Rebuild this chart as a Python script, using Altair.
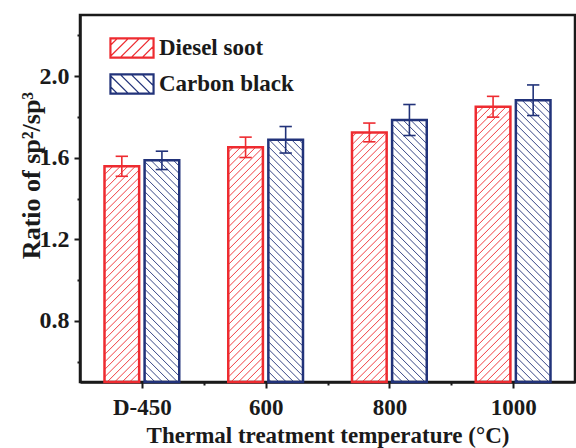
import altair as alt
import pandas as pd
import numpy as np

# ---- data ----
categories = ["D-450", "600", "800", "1000"]
series = ["Diesel soot", "Carbon black"]
diesel = [1.558, 1.651, 1.724, 1.850]
diesel_err = [0.049, 0.050, 0.046, 0.051]
carbon = [1.587, 1.688, 1.785, 1.882]
carbon_err = [0.045, 0.065, 0.076, 0.075]
colors = ["#EE2B30", "#22337A"]

# ---- layout constants ----
W, H = 495, 367
X_DOM = [-0.5, 3.5]
Y_DOM = [0.5, 2.3]
ppx = W / (X_DOM[1] - X_DOM[0])
ppy = H / (Y_DOM[1] - Y_DOM[0])
bar_w = 0.28
offsets = [-0.162, 0.162]
cap = 0.05

rows = []
for si, (vals, errs) in enumerate([(diesel, diesel_err), (carbon, carbon_err)]):
    for ci, cat in enumerate(categories):
        c = ci + offsets[si]
        rows.append(dict(series=series[si], col=colors[si], cat=cat, xc=c, x0=c - bar_w / 2, x1=c + bar_w / 2,
                         v=vals[ci], lo=vals[ci] - errs[ci], hi=vals[ci] + errs[ci],
                         cl=c - cap, cr=c + cap, base=Y_DOM[0]))
df = pd.DataFrame(rows)

# hatch lines derived from bar geometry
hrows = []
s = 7.5
for r in rows:
    w = bar_w * ppx
    h = (r["v"] - Y_DOM[0]) * ppy
    if r["series"] == series[0]:
        for c in np.arange(-w + 2, h, s):
            a = max(0.0, -c)
            b = min(w, h - c)
            if b > a:
                hrows.append(dict(col=r["col"], hx=r["x0"] + a / ppx, hy=Y_DOM[0] + (a + c) / ppy,
                                  hx2=r["x0"] + b / ppx, hy2=Y_DOM[0] + (b + c) / ppy))
    else:
        for c in np.arange(3, h + w, s):
            a = max(0.0, c - h)
            b = min(w, c)
            if b > a:
                hrows.append(dict(col=r["col"], hx=r["x0"] + a / ppx, hy=Y_DOM[0] + (c - a) / ppy,
                                  hx2=r["x0"] + b / ppx, hy2=Y_DOM[0] + (c - b) / ppy))
hdf = pd.DataFrame(hrows)

# legend symbol paths (rectangle + hatch), unit square -1..1
def sym_path(direction):
    hh = 0.4545
    p = f"M-1,-{hh}H1V{hh}H-1Z M-0.96,-{hh-0.04}H0.96V{hh-0.04}H-0.96Z"
    segs = []
    for c in np.arange(-1.6, 1.6, 0.5):
        pts = []
        for x in np.linspace(-1, 1, 401):
            y = -(x - c) if direction == "/" else (x - c)
            if -hh <= y <= hh:
                pts.append((x, y))
        if len(pts) > 2:
            segs.append(f"M{pts[0][0]:.3f},{pts[0][1]:.3f}L{pts[-1][0]:.3f},{pts[-1][1]:.3f}")
    return p + " " + " ".join(segs)

shapes = [sym_path("/"), sym_path("\\")]

FONT = "Liberation Serif"

label_expr = "datum.value % 1 === 0 ? " + str(categories) + "[datum.value] : ''"

x_axis = alt.Axis(values=[0, 0.5, 1, 1.5, 2, 2.5, 3], labelExpr=label_expr, grid=False,
                  tickSize={"condition": {"test": "datum.value % 1 === 0", "value": 6}, "value": 3},
                  title="Thermal treatment temperature (°C)", labelPadding=8,
                  titleFontSize=23, labelFontSize=23, titleY=60, titleBaseline="alphabetic")
y_axis = alt.Axis(values=[0.6, 0.8, 1.0, 1.2, 1.4, 1.6, 1.8, 2.0, 2.2], grid=False,
                  labelExpr="round(datum.value * 10) % 4 === 0 ? format(datum.value, '.1f') : ''",
                  tickSize={"condition": {"test": "round(datum.value * 10) % 4 === 0", "value": 6}, "value": 3},
                  title="Ratio of sp²/sp³", labelPadding=5, titleFontSize=26, labelFontSize=24,
                  titleX=-41, titleY=160, titleAngle=270, titleBaseline="alphabetic", titleAlign="center")

xs = alt.Scale(domain=X_DOM, nice=False, zero=False)
ys = alt.Scale(domain=Y_DOM, nice=False, zero=False)

base = alt.Chart(df)
stroke_enc = alt.Stroke("col:N", scale=None)

bars = base.mark_rect(filled=False, strokeWidth=2.5).encode(
    x=alt.X("x0:Q", scale=xs, axis=x_axis),
    x2="x1:Q",
    y=alt.Y("base:Q", scale=ys, axis=y_axis),
    y2="v:Q",
    stroke=stroke_enc,
)

hatch = alt.Chart(hdf).mark_rule(strokeWidth=1, opacity=0.9).encode(
    x="hx:Q", x2="hx2:Q", y="hy:Q", y2="hy2:Q",
    stroke=stroke_enc,
)

err = base.mark_rule(strokeWidth=1.6).encode(
    x="xc:Q", y="lo:Q", y2="hi:Q", stroke=stroke_enc,
)
cap_lo = base.mark_rule(strokeWidth=1.6).encode(
    x="cl:Q", x2="cr:Q", y="lo:Q", stroke=stroke_enc,
)
cap_hi = base.mark_rule(strokeWidth=1.6).encode(
    x="cl:Q", x2="cr:Q", y="hi:Q", stroke=stroke_enc,
)

leg = alt.Legend(orient="none", legendX=29, legendY=10, title=None, padding=0,
                 symbolSize=1936, symbolStrokeWidth=1.3, symbolOpacity=1,
                 symbolFillColor="transparent",
                 labelFontSize=23, labelFont=FONT, labelFontWeight="bold", labelColor="#1a1a1a",
                 labelOffset=4, rowPadding=-5, labelLimit=400)

legend_layer = base.mark_point(opacity=0, filled=False).encode(
    x="xc:Q", y="v:Q",
    color=alt.Color("series:N", scale=alt.Scale(domain=series, range=colors), title=None, legend=leg),
    shape=alt.Shape("series:N", scale=alt.Scale(domain=series, range=shapes), title=None, legend=leg),
)

chart = alt.layer(hatch, bars, err, cap_lo, cap_hi, legend_layer).properties(
    width=W, height=H,
    autosize=alt.AutoSizeParams(type="none"),
    padding={"left": 80, "top": 15, "right": 1, "bottom": 66},
    background="white",
).configure_view(
    stroke="#1a1a1a", strokeWidth=2.5
).configure_axis(
    labelFont=FONT, titleFont=FONT, labelFontWeight="bold", titleFontWeight="bold",
    labelColor="#1a1a1a", titleColor="#1a1a1a", domainColor="#1a1a1a", domainWidth=2.5,
    tickColor="#1a1a1a", tickWidth=2,
)

chart.save("out.html", embed_options={"renderer": "svg", "actions": False})
